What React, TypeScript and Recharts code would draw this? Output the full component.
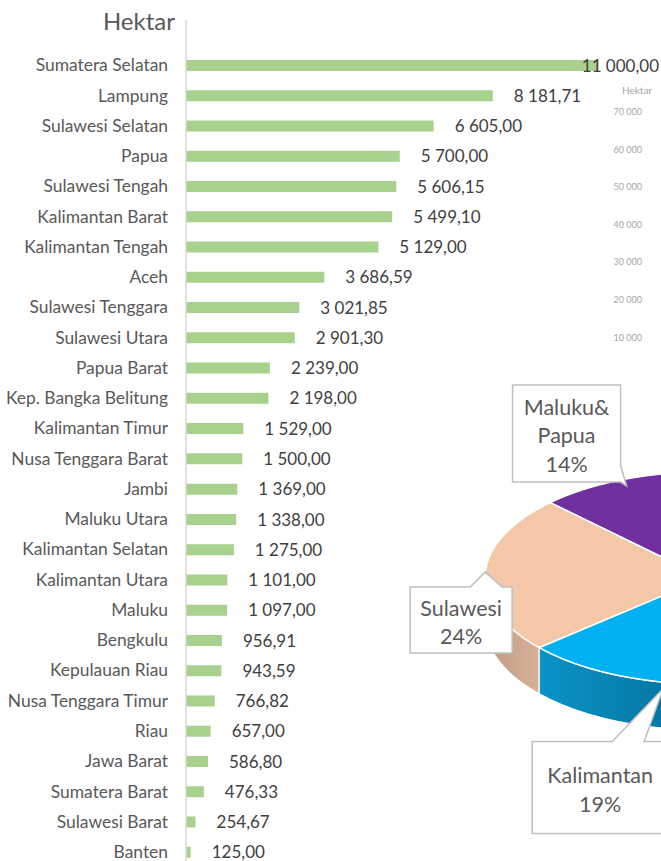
import { BarChart, Bar, XAxis, YAxis, LabelList, PieChart, Pie, Cell } from 'recharts';

// luas lahan per provinsi (hektar)
const PROVINCES = [
  'Sumatera Selatan', 'Lampung', 'Sulawesi Selatan', 'Papua', 'Sulawesi Tengah',
  'Kalimantan Barat', 'Kalimantan Tengah', 'Aceh', 'Sulawesi Tenggara', 'Sulawesi Utara',
  'Papua Barat', 'Kep. Bangka Belitung', 'Kalimantan Timur', 'Nusa Tenggara Barat', 'Jambi',
  'Maluku Utara', 'Kalimantan Selatan', 'Kalimantan Utara', 'Maluku', 'Bengkulu',
  'Kepulauan Riau', 'Nusa Tenggara Timur', 'Riau', 'Jawa Barat', 'Sumatera Barat',
  'Sulawesi Barat', 'Banten',
];
const HECTARES = [
  11000, 8181.71, 6605, 5700, 5606.15,
  5499.1, 5129, 3686.59, 3021.85, 2901.3,
  2239, 2198, 1529, 1500, 1369,
  1338, 1275, 1101, 1097, 956.91,
  943.59, 766.82, 657, 586.8, 476.33,
  254.67, 125,
];

// sumbu chart di belakang
const BG_TICKS = [10000, 20000, 30000, 40000, 50000, 60000, 70000];

// pie per pulau (persen), slice pertama tidak terlihat
const ISLANDS = ['Lainnya', 'Maluku& Papua', 'Sulawesi', 'Kalimantan'];
const ISLAND_SHARE = [43, 14, 24, 19];
const ISLAND_COLORS = ['#A5A5A5', '#7030A0', '#F4C7A9', '#00B0F0'];
const ISLAND_SIDES = [
  ['#8A8A8A', '#7A7A7A'],
  ['#55247A', '#4A1F6B'],
  ['#C29A82', '#D6B198'],
  ['#0A93C6', '#005F86'],
];

// posisi kotak label relatif terhadap titik tengah busur
const BOXES: Record<number, any> = {
  1: { dx: -119, dy: -93, w: 108, h: 97, side: 'right', b1: 80, b2: 97, tip: [-5, 8], ty: 22 },
  2: { dx: -75, dy: 13, w: 102, h: 66, side: 'top', b1: 60, b2: 92, tip: [0, -2], ty: 21 },
  3: { dx: -117, dy: 61, w: 136, h: 92, side: 'top', b1: 80, b2: 112, tip: [14, 8], ty: 34 },
};

const barData = PROVINCES.map((name, i) => ({ name, value: HECTARES[i] }));
const pieData = ISLANDS.map((name, i) => ({ name, value: ISLAND_SHARE[i] }));

const FONT = 'Lato, "Open Sans", sans-serif';
const TILT = 0.482;
const DEPTH = 46;

const fmtNum = (v: number, dec = 2) => {
  const [i, d] = v.toFixed(dec).split('.');
  const int = i.replace(/\B(?=(\d{3})+(?!\d))/g, ' ');
  return d ? `${int},${d}` : int;
};

const ValueLabel = (props: any) => {
  const { x, y, width, height, value } = props;
  const text = fmtNum(Number(value));
  const est = text.length * 8.6;
  let tx = x + width + 21;
  let anchor = 'start';
  if (tx + est > 659) {
    tx = 659;
    anchor = 'end';
  }
  return (
    <text x={tx} y={y + height / 2} dy="0.36em" textAnchor={anchor} fill="#404040" fontSize={17} fontFamily={FONT}>
      {text}
    </text>
  );
};

const renderSlice = (p: any) => {
  const { cx, cy, outerRadius: r, startAngle, endAngle, midAngle, percent, index } = p;
  const ry = r * TILT;
  const pt = (a: number, dy = 0) => {
    const rad = (a * Math.PI) / 180;
    return [cx + r * Math.cos(rad), cy - ry * Math.sin(rad) + dy];
  };
  const s = Math.min(startAngle, endAngle);
  const e = Math.max(startAngle, endAngle);
  const [sx, sy] = pt(s);
  const [ex, ey] = pt(e);
  const large = e - s > 180 ? 1 : 0;
  const top = `M${cx},${cy} L${sx},${sy} A${r},${ry} 0 ${large} 0 ${ex},${ey} Z`;

  // sisi depan (hanya bagian bawah elips)
  let s2 = s;
  let e2 = e;
  if (s2 < 0) {
    s2 += 360;
    e2 += 360;
  }
  const a1 = Math.max(s2, 180);
  const a2 = Math.min(e2, 360);
  let side = null;
  if (a2 > a1) {
    const [x1, y1] = pt(a1);
    const [x2, y2] = pt(a2);
    const d = `M${x1},${y1} A${r},${ry} 0 0 0 ${x2},${y2} L${x2},${y2 + DEPTH} A${r},${ry} 0 0 1 ${x1},${y1 + DEPTH} Z`;
    side = (
      <>
        <defs>
          <linearGradient id={`side-${index}`} x1="0" x2="1" y1="0" y2="0">
            <stop offset="0" stopColor={ISLAND_SIDES[index][0]} />
            <stop offset="1" stopColor={ISLAND_SIDES[index][1]} />
          </linearGradient>
        </defs>
        <path d={d} fill={`url(#side-${index})`} stroke="#fff" strokeWidth={1.2} />
      </>
    );
  }

  let box = null;
  const b = BOXES[index];
  if (b) {
    const [mx, my] = pt(midAngle);
    const bx = mx + b.dx;
    const by = my + b.dy;
    const tx = mx + b.tip[0];
    const ty = my + b.tip[1];
    let d = '';
    if (b.side === 'top') {
      d = `M${bx},${by} L${bx + b.b1},${by} L${tx},${ty} L${bx + b.b2},${by} L${bx + b.w},${by} L${bx + b.w},${by + b.h} L${bx},${by + b.h} Z`;
    } else {
      d = `M${bx},${by} L${bx + b.w},${by} L${bx + b.w},${by + b.b1} L${tx},${ty} L${bx + b.w},${by + b.b2} L${bx + b.w},${by + b.h} L${bx},${by + b.h} Z`;
    }
    const lines = [...ISLANDS[index].split(' '), `${Math.round(percent * 100)}%`];
    box = (
      <g>
        <path d={d} fill="#fff" stroke="#BFBFBF" strokeWidth={1.5} />
        {lines.map((t, i) => (
          <text
            key={i}
            x={bx + b.w / 2}
            y={by + b.ty + i * 28.5}
            dy="0.36em"
            textAnchor="middle"
            fill="#595959"
            fontSize={21.5}
            fontFamily={FONT}
          >
            {t}
          </text>
        ))}
      </g>
    );
  }

  return (
    <g>
      {side}
      <path d={top} fill={ISLAND_COLORS[index]} stroke="#fff" strokeWidth={1.5} />
      {box}
    </g>
  );
};

export default function App() {
  return (
    <div style={{ position: 'absolute', left: 0, top: 0, width: 661, height: 861, overflow: 'hidden', background: '#fff', fontFamily: FONT }}>
      {/* sumbu chart lain di belakang */}
      <div style={{ position: 'absolute', left: 590, top: 0 }}>
        <BarChart width={70} height={400} data={[{ v: 0 }]} margin={{ top: 112, right: 0, bottom: 25, left: 0 }}>
          <XAxis hide />
          <YAxis
            type="number"
            domain={[0, 70000]}
            ticks={BG_TICKS}
            width={62}
            axisLine={false}
            tickLine={false}
            tickSize={0}
            tickMargin={10}
            tick={{ fill: '#A6A6A6', fontSize: 9, fontFamily: FONT }}
            tickFormatter={(v) => fmtNum(v, 0)}
          />
          <Bar dataKey="v" fill="none" isAnimationActive={false} />
        </BarChart>
      </div>
      <div style={{ position: 'absolute', left: 600, top: 83, width: 52, textAlign: 'right', fontSize: 10, lineHeight: '14px', color: '#A6A6A6' }}>
        Hektar
      </div>

      {/* pie 3D per pulau */}
      <div style={{ position: 'absolute', left: 360, top: 360 }}>
        <PieChart width={700} height={501} margin={{ top: 0, right: 0, bottom: 0, left: 0 }}>
          <Pie
            data={pieData}
            dataKey="value"
            cx={345}
            cy={218}
            outerRadius={220}
            startAngle={-70.5}
            endAngle={289.5}
            stroke="none"
            label={renderSlice}
            labelLine={false}
            isAnimationActive={false}
          >
            {pieData.map((d, i) => (
              <Cell key={`cell-${i}`} fill="transparent" />
            ))}
          </Pie>
        </PieChart>
      </div>

      {/* chart utama */}
      <div style={{ position: 'absolute', left: 0, top: 0 }}>
        <BarChart width={661} height={867} data={barData} layout="vertical" margin={{ top: 20, right: 25, bottom: 0, left: 0 }}>
          <XAxis type="number" domain={[0, 12000]} hide />
          <YAxis
            type="category"
            dataKey="name"
            width={186}
            interval={0}
            padding={{ top: 30, bottom: 0 }}
            tickLine={false}
            tickMargin={12}
            axisLine={{ stroke: '#D9D9D9', strokeWidth: 1.5 }}
            tick={{ fill: '#595959', fontSize: 17.4, fontFamily: FONT }}
          />
          <Bar dataKey="value" fill="#A9D18E" barSize={11} isAnimationActive={false}>
            <LabelList dataKey="value" content={ValueLabel} />
          </Bar>
        </BarChart>
      </div>
      <div style={{ position: 'absolute', left: 0, top: 6, width: 175, textAlign: 'right', fontSize: 24, lineHeight: '30px', color: '#595959' }}>
        Hektar
      </div>
    </div>
  );
}
